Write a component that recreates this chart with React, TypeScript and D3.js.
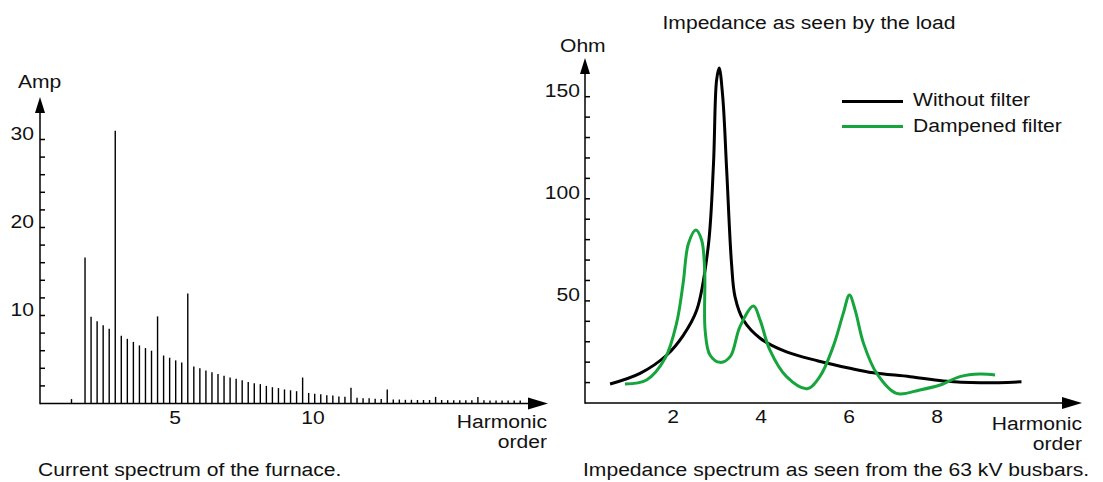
import React from 'react';
import * as d3 from 'd3';

const W = 1103;
const H = 482;
const FONT = "'Liberation Sans', Arial, Helvetica, sans-serif";
const SX = 1.11; // reference text is drawn a little wide
const GREEN = '#16a53c';

// ---- left: current spectrum of the furnace ----
const ampLabels = [10, 20, 30];
const ampMinorTicks = d3.range(2, 31, 2);
const leftOrderLabels = [5, 10];
const strayBar = { order: 1.25, amp: 0.5 };
const firstBarOrder = 1.74;
const barStep = 0.219;
const barAmps = [
  16.6, 9.85, 9.35, 8.9, 8.5, 31.0, 7.7, 7.35, 7.0, 6.6, 6.3, 6.0, 9.9, 5.45, 5.2, 4.9, 4.65,
  12.5, 4.2, 4.0, 3.75, 3.55, 3.35, 3.15, 2.95, 2.8, 2.65, 2.45, 2.3, 2.2, 2.0, 1.85, 1.75,
  1.6, 1.5, 1.4, 2.95, 1.2, 1.1, 1.05, 0.95, 0.9, 0.8, 0.78, 1.8, 0.65, 0.6, 0.6, 0.55, 0.5,
  1.6, 0.45, 0.45, 0.42, 0.42, 0.4, 0.4, 0.4, 0.75, 0.4, 0.38, 0.38, 0.38, 0.36, 0.36, 0.75,
  0.36, 0.35, 0.35, 0.35, 0.34, 0.34, 0.34,
];

// ---- right: impedance seen from the 63 kV busbars ----
const ohmLabels = [50, 100, 150];
const ohmMinorTicks = d3.range(10, 151, 10);
const rightOrderLabels = [2, 4, 6, 8];
const noFilterOrder = [0.57, 1.25, 1.86, 2.23, 2.54, 2.8, 2.92, 2.99, 3.05, 3.13, 3.22, 3.33, 3.41, 3.6, 3.98, 4.58, 5.3, 6.02, 6.55, 7.39, 8.14, 8.98, 9.92];
const noFilterOhm = [9.3, 14.5, 23.5, 33, 45.5, 76.5, 117, 158, 164, 150, 114, 68.4, 52, 40.6, 31.7, 25, 20.6, 17, 14.8, 12.9, 10.8, 9.9, 10.4];
const dampedOrder = [0.91, 1.4, 1.82, 2.08, 2.23, 2.35, 2.52, 2.65, 2.72, 2.73, 2.84, 3.07, 3.3, 3.52, 3.83, 3.98, 4.2, 4.58, 5.05, 5.34, 5.64, 5.87, 6.01, 6.14, 6.33, 6.63, 7.08, 7.61, 8.07, 8.52, 8.98, 9.32];
const dampedOhm = [9.3, 11.3, 21.9, 39, 58.6, 78, 84.7, 79.8, 65, 35.7, 23.5, 19.9, 22.7, 37.3, 47.5, 40.6, 26, 12.9, 7.0, 13.0, 27.6, 43.9, 52.9, 45.5, 29.2, 14.5, 4.7, 6.4, 8.8, 12.9, 14.2, 13.7];

const Txt = ({ x, y, children, anchor = 'start', size = 19 }) => (
  <text
    transform={`translate(${x},${y}) scale(${SX},1)`}
    textAnchor={anchor}
    fontSize={size}
    fontFamily={FONT}
    fill="#111"
  >
    {children}
  </text>
);

const UpArrow = ({ x, y }) => <path d={`M${x},${y} L${x - 5},${y + 16} L${x + 5},${y + 16} Z`} fill="#000" />;
const RightArrow = ({ x, y }) => <path d={`M${x},${y} L${x - 20},${y - 6} L${x - 20},${y + 6} Z`} fill="#000" />;

export default function App() {
  // left scales
  const xL = d3.scaleLinear().domain([0, 10]).range([37, 313]);
  const yL = d3.scaleLinear().domain([0, 30]).range([403.5, 139.5]);
  const axL = 40;
  const baseL = yL(0);

  // right scales
  const xR = d3.scaleLinear().domain([0, 8]).range([585, 937]);
  const yR = d3.scaleLinear().domain([0, 150]).range([403, 96.7]);
  const axR = xR(0);
  const baseR = yR(0);

  const curve = d3
    .line<[number, number]>()
    .x((d) => xR(d[0]))
    .y((d) => yR(d[1]))
    .curve(d3.curveCatmullRom.alpha(0.5));

  const noFilter = noFilterOrder.map((o, i) => [o, noFilterOhm[i]] as [number, number]);
  const damped = dampedOrder.map((o, i) => [o, dampedOhm[i]] as [number, number]);

  const bars = [strayBar, ...barAmps.map((amp, i) => ({ order: firstBarOrder + i * barStep, amp }))];

  return (
    <svg width={W} height={H} style={{ position: 'absolute', left: 0, top: 0, background: '#fff' }}>
      {/* ===== left chart ===== */}
      <g stroke="#000" strokeWidth={1.4}>
        {bars.map((b, i) => (
          <line key={i} x1={xL(b.order)} x2={xL(b.order)} y1={baseL} y2={yL(b.amp)} />
        ))}
      </g>
      <g stroke="#000" strokeWidth={1.5}>
        <line x1={axL} x2={axL} y1={baseL + 0.75} y2={105} />
        <line x1={axL} x2={532} y1={baseL} y2={baseL} />
        {ampMinorTicks.map((t) => (
          <line key={t} x1={axL} x2={axL + 5} y1={yL(t)} y2={yL(t)} />
        ))}
      </g>
      <UpArrow x={axL} y={97} />
      <RightArrow x={548} y={baseL} />
      {ampLabels.map((t) => (
        <Txt key={t} x={34} y={yL(t)} anchor="end">{t}</Txt>
      ))}
      {leftOrderLabels.map((t) => (
        <Txt key={t} x={xL(t)} y={424} anchor="middle">{t}</Txt>
      ))}
      <Txt x={18} y={88}>Amp</Txt>
      <Txt x={547} y={428} anchor="end">Harmonic</Txt>
      <Txt x={547} y={448} anchor="end">order</Txt>
      <Txt x={38} y={476}>Current spectrum of the furnace.</Txt>

      {/* ===== right chart ===== */}
      <g stroke="#000" strokeWidth={1.5}>
        <line x1={axR} x2={axR} y1={baseR + 0.75} y2={66} />
        <line x1={axR} x2={1066} y1={baseR} y2={baseR} />
        {ohmMinorTicks.map((t) => (
          <line key={t} x1={axR} x2={axR + 5} y1={yR(t)} y2={yR(t)} />
        ))}
      </g>
      <UpArrow x={axR} y={58} />
      <RightArrow x={1082} y={baseR} />
      {ohmLabels.map((t) => (
        <Txt key={t} x={580} y={yR(t)} anchor="end">{t}</Txt>
      ))}
      {rightOrderLabels.map((t) => (
        <Txt key={t} x={xR(t)} y={423} anchor="middle">{t}</Txt>
      ))}
      <Txt x={560} y={52}>Ohm</Txt>
      <Txt x={1082} y={430} anchor="end">Harmonic</Txt>
      <Txt x={1082} y={450} anchor="end">order</Txt>

      <path d={curve(noFilter) ?? ''} fill="none" stroke="#000" strokeWidth={3} strokeLinejoin="round" />
      <path d={curve(damped) ?? ''} fill="none" stroke={GREEN} strokeWidth={3} strokeLinejoin="round" />

      {/* legend */}
      <line x1={842} x2={903} y1={101.5} y2={101.5} stroke="#000" strokeWidth={3} />
      <Txt x={913} y={106}>Without filter</Txt>
      <line x1={842} x2={903} y1={126.5} y2={126.5} stroke={GREEN} strokeWidth={3} />
      <Txt x={913} y={132}>Dampened filter</Txt>

      <Txt x={809} y={29} anchor="middle">Impedance as seen by the load</Txt>
      <Txt x={583} y={476}>Impedance spectrum as seen from the 63 kV busbars.</Txt>
    </svg>
  );
}
